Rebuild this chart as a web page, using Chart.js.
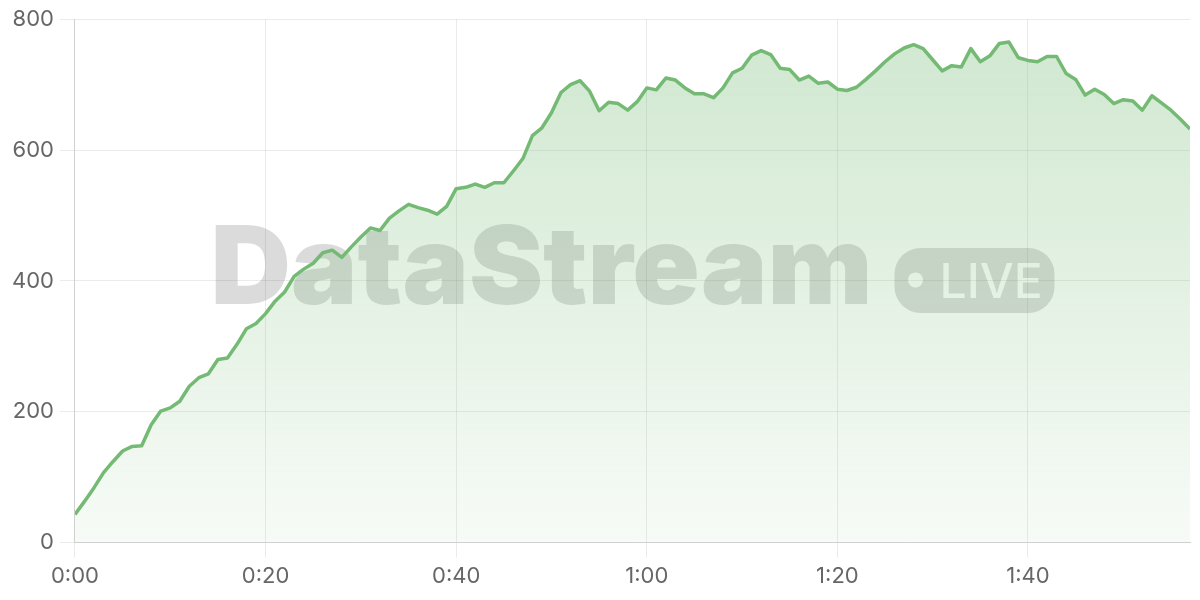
<!DOCTYPE html>
<html>
<head>
<meta charset="utf-8">
<script src="https://cdn.jsdelivr.net/npm/chart.js"></script>
<style>
    html, body { margin: 0; padding: 0; background: #fff; }
    #wrap { width: 1200px; height: 600px; position: relative; }
</style>
</head>
<body>
<div id="wrap"><canvas id="streamChart"></canvas></div>
<script>
// Sample time in seconds (one sample per second)
var seconds = [];
for (var s = 0; s <= 117; s++) { seconds.push(s); }

// Viewer count
var viewers = [
    43, 63, 84, 107, 124, 140, 147, 148, 180, 201,
    206, 216, 239, 252, 258, 280, 282, 303, 327, 335,
    350, 369, 383, 407, 418, 427, 443, 447, 436, 452,
    467, 481, 477, 496, 507, 517, 512, 508, 502, 514,
    541, 543, 548, 543, 550, 550, 568, 587, 622, 634,
    657, 688, 700, 706, 690, 660, 673, 671, 661, 674,
    695, 692, 710, 707, 695, 686, 686, 680, 695, 718,
    725, 745, 752, 746, 725, 723, 707, 713, 702, 704,
    693, 691, 696, 708, 721, 735, 747, 756, 761, 755,
    738, 721, 729, 727, 755, 735, 744, 763, 765, 741,
    737, 735, 743, 743, 717, 708, 684, 693, 685, 671,
    677, 675, 661, 683, 672, 661, 647, 632
];

var yTicks = [0, 200, 400, 600, 800];
var brandName = 'DataStream';
var badgeText = 'LIVE';

function fmtTime(v) {
    var m = Math.floor(v / 60);
    var sec = v % 60;
    return m + ':' + (sec < 10 ? '0' : '') + sec;
}

var points = seconds.map(function(t, i) { return { x: t, y: viewers[i] }; });

// Watermark drawn under the line, cut-out badge text
var watermark = {
    id: 'watermark',
    beforeDatasetsDraw: function(chart) {
        var area = chart.chartArea;
        var ctx = chart.ctx;
        var cx = (area.left + area.right) / 2;
        var cy = (area.top + area.bottom) / 2;

        var off = document.createElement('canvas');
        off.width = chart.width;
        off.height = chart.height;
        var o = off.getContext('2d');

        o.font = '900 108px Inter';
        var textW = o.measureText(brandName).width;
        // stretch a little to the reference width
        var sx = 662 / textW;
        var gap = 22, badgeW = 160, badgeH = 65;
        var total = 662 + gap + badgeW;
        var startX = cx - total / 2;
        var baseY = cy + 23;

        o.fillStyle = '#000';
        o.textBaseline = 'alphabetic';
        o.save();
        o.translate(startX, baseY);
        o.scale(sx, 1);
        o.fillText(brandName, 0, 0);
        o.restore();

        var bx = startX + 662 + gap;
        var by = cy - 33;
        o.beginPath();
        o.roundRect(bx, by, badgeW, badgeH, 26);
        o.fill();

        // knock out dot and label
        o.globalCompositeOperation = 'destination-out';
        o.beginPath();
        o.arc(bx + 21, by + 32, 7.5, 0, 2 * Math.PI);
        o.fill();
        o.font = '500 48px Inter';
        o.fillText(badgeText, bx + 45, by + 50);

        ctx.save();
        ctx.globalAlpha = 0.14;
        ctx.drawImage(off, 0, 0);
        ctx.restore();
    }
};

new Chart(document.getElementById('streamChart'), {
    type: 'line',
    data: {
        datasets: [{
            data: points,
            borderColor: '#74ba74',
            borderWidth: 3.5,
            borderJoinStyle: 'round',
            tension: 0,
            pointRadius: 0,
            fill: 'origin',
            backgroundColor: function(context) {
                var area = context.chart.chartArea;
                if (!area) { return 'rgba(115,185,115,0.2)'; }
                var g = context.chart.ctx.createLinearGradient(0, area.top, 0, area.bottom);
                g.addColorStop(0, 'rgba(115,185,115,0.34)');
                g.addColorStop(1, 'rgba(115,185,115,0.06)');
                return g;
            }
        }]
    },
    options: {
        responsive: true,
        maintainAspectRatio: false,
        animation: false,
        layout: { padding: { top: 9, right: 10, bottom: 4, left: 6 } },
        plugins: {
            legend: { display: false },
            tooltip: { enabled: false }
        },
        scales: {
            x: {
                type: 'linear',
                min: 0,
                max: seconds[seconds.length - 1],
                grid: { color: 'rgba(0,0,0,0.08)', tickLength: 15 },
                border: { color: '#d0d0d0' },
                ticks: {
                    stepSize: 20,
                    includeBounds: false,
                    padding: 6,
                    color: '#666',
                    font: { family: 'Inter', size: 22 },
                    callback: function(v) { return fmtTime(v); }
                }
            },
            y: {
                min: yTicks[0],
                max: yTicks[yTicks.length - 1],
                grid: { color: 'rgba(0,0,0,0.08)', tickLength: 15 },
                border: { color: '#d0d0d0' },
                ticks: {
                    stepSize: 200,
                    padding: 6,
                    color: '#666',
                    font: { family: 'Inter', size: 22 }
                }
            }
        }
    },
    plugins: [watermark]
});
</script>
</body>
</html>
